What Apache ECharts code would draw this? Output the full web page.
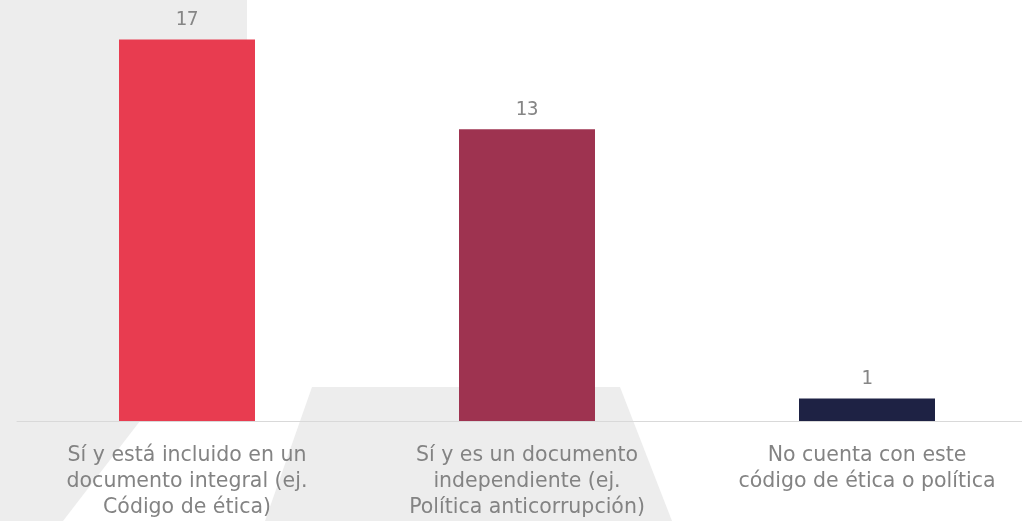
<!DOCTYPE html>
<html>
<head>
<meta charset="utf-8">
<script src="https://cdn.jsdelivr.net/npm/echarts@6/dist/echarts.min.js"></script>
<style>
  html, body { margin: 0; padding: 0; background: #ffffff; overflow: hidden; width: 1022px; height: 521px; }
  #chart { position: absolute; left: 0; top: 0; width: 1037px; height: 521px; }
</style>
</head>
<body>
<div id="chart"></div>
<script>
const categories = [
  'Sí y está incluido en un\ndocumento integral (ej.\nCódigo de ética)',
  'Sí y es un documento\nindependiente (ej.\nPolítica anticorrupción)',
  'No cuenta con este\ncódigo de ética o política'
];
const values = [17, 13, 1];
const barColors = ['#e83c50', '#9e3350', '#1e2244'];

const chart = echarts.init(document.getElementById('chart'), null, { renderer: 'canvas', width: 1037, height: 521 });

chart.setOption({
  backgroundColor: '#ffffff',
  animation: false,
  graphic: [
    {
      type: 'polygon', z: -10, silent: true,
      shape: { points: [[0, 0], [247, 0], [247, 282], [63, 521], [0, 521]] },
      style: { fill: '#ededed' }
    },
    {
      type: 'polygon', z: -10, silent: true,
      shape: { points: [[312, 387], [620, 387], [672, 521], [265, 521]] },
      style: { fill: '#ededed' }
    }
  ],
  grid: { left: 17, top: 17, right: 0, bottom: 96, containLabel: false },
  xAxis: {
    type: 'category',
    data: categories,
    axisLine: { show: true, lineStyle: { color: '#d9d9d9', width: 1 } },
    axisTick: { show: false },
    axisLabel: {
      interval: 0,
      margin: 22,
      color: '#838383',
      fontFamily: 'DejaVu Sans',
      fontSize: 20.5,
      lineHeight: 26,
      align: 'center'
    }
  },
  yAxis: {
    type: 'value',
    min: 0,
    max: 18,
    show: false,
    splitLine: { show: false }
  },
  series: [{
    type: 'bar',
    barWidth: '40%',
    data: values.map((v, i) => ({ value: v, itemStyle: { color: barColors[i] } })),
    label: {
      show: true,
      position: 'top',
      distance: 10,
      color: '#868686',
      fontFamily: 'DejaVu Sans Mono',
      fontSize: 19
    }
  }]
});
</script>
</body>
</html>
